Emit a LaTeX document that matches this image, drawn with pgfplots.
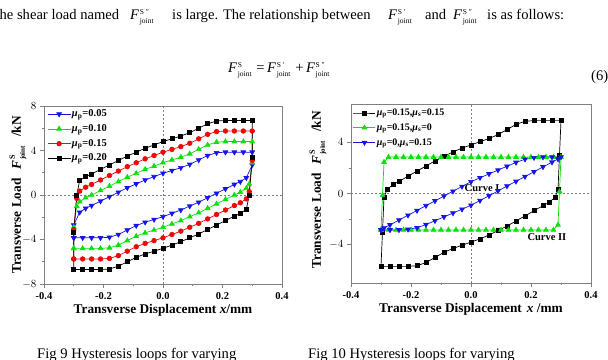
\documentclass[border=0pt]{standalone}
\usepackage{fontspec}
\setmainfont{Liberation Serif}
\usepackage{pgfplots}
\pgfplotsset{compat=1.18}

\definecolor{cblue}{RGB}{20,20,235}
\definecolor{cgreen}{RGB}{10,225,10}
\definecolor{cred}{RGB}{235,10,10}
\definecolor{framegray}{RGB}{128,128,128}

% italic F with a superscript and the subscript "joint"
\newcommand{\Fj}[1]{\textit{F}\kern0.6pt\rlap{\raisebox{5.5pt}{\fontsize{7.5}{7.5}\selectfont #1}}\raisebox{-4pt}{\fontsize{7.5}{7.5}\selectfont joint}}
\newcommand{\Fylab}{\textbf{\textit{F}}\kern0.6pt\rlap{\raisebox{6pt}{\fontsize{8}{8}\selectfont S}}\raisebox{-4pt}{\fontsize{7}{7}\selectfont joint}}
\newcommand{\mup}[1]{\textit{μ}\textsubscript{#1}}

\pgfplotsset{
  loopaxis/.style={
    scale only axis,
    anchor=south west,
    xmin=-0.4, xmax=0.4,
    xtick={-0.4,-0.2,0,0.2,0.4},
    xticklabels={-0.4,-0.2,0.0,0.2,0.4},
    minor x tick num=1,
    minor y tick num=1,
    tick align=outside,
    xtick pos=lower, ytick pos=left,
    major tick length=4pt, minor tick length=2pt,
    axis line style={framegray, line width=0.9pt},
    tick style={framegray, line width=0.8pt},
    tick label style={font=\bfseries\fontsize{10.5}{12}\selectfont},
    xticklabel style={anchor=base, yshift=-11pt},
    label style={font=\bfseries\fontsize{13.3}{15}\selectfont},
    xlabel style={at={(axis description cs:0.5,0)}, anchor=base, yshift=-29.5pt},
    legend cell align=left,
    legend style={draw=none, fill=none, anchor=north west,
      font=\bfseries\fontsize{10.5}{12}\selectfont,
      inner xsep=0pt, inner ysep=1pt, row sep=2.8pt,
      nodes={inner sep=1pt, text height=7.5pt, text depth=2.5pt}},
    legend image code/.code={\draw[mark repeat=2, mark phase=2]
      plot coordinates {(0pt,0pt) (11.5pt,0pt) (23pt,0pt)};},
    every axis plot/.append style={line width=0.7pt},
    sq/.style={black, mark=square*, mark size=2pt},
    ci/.style={cred, mark=*, mark size=2.3pt},
    tu/.style={cgreen, mark=triangle*, mark size=2.7pt},
    td/.style={cblue, mark=triangle*, mark size=2.7pt, mark options={rotate=180}},
  }
}

\begin{document}
\begin{tikzpicture}
\path[use as bounding box] (0pt,0pt) rectangle (608pt,359pt);
\clip (0pt,0pt) rectangle (608pt,359pt);

% running text and equation (6)
\begin{scope}[every node/.style={anchor=base west, inner sep=0pt, font=\fontsize{14.6}{17}\selectfont}]
\node at (-9.5pt,339pt) {The shear load named};
\node at (130pt,339pt) {\Fj{S ″}};
\node at (172pt,339pt) {is large. The relationship between};
\node at (388pt,339pt) {\Fj{S ′}};
\node at (425pt,339pt) {and};
\node at (453pt,339pt) {\Fj{S ″}};
\node at (487pt,339pt) {is as follows:};
\node at (228pt,286pt) {\Fj{S}\,\,=\,\Fj{S ′}\,\,+\,\Fj{S ″}};
\node at (591pt,278pt) {(6)};
\node at (37pt,1pt) {Fig 9 Hysteresis loops for varying};
\node at (308pt,1pt) {Fig 10 Hysteresis loops for varying};
\end{scope}

% ---- Fig 9: varying mu_p ----
\begin{axis}[loopaxis, at={(44pt,75pt)}, width=238pt, height=178pt,
  ymin=-8, ymax=8, ytick={-8,-4,0,4,8},
  xlabel={Transverse Displacement \textit{x}/mm},
  ylabel={Transverse Load\hspace{9pt}\Fylab\hspace{9pt}/kN},
  ylabel style={at={(axis description cs:-0.109,0.5)}, anchor=center},
  legend style={at={(axis description cs:0.013,0.995)}},
]
\draw[framegray, dash pattern=on 2pt off 2pt, line width=0.6pt] (axis cs:0,-8) -- (axis cs:0,8);
\draw[framegray, dash pattern=on 2pt off 2pt, line width=0.6pt] (axis cs:-0.4,0) -- (axis cs:0.4,0);

\addplot[td] coordinates {
(-0.30,-3.85) (-0.30,-2.7) (-0.28,-1.55) (-0.26,-1.2) (-0.24,-0.95) (-0.21,-0.55)
(-0.18,-0.15) (-0.15,0.25) (-0.12,0.65) (-0.09,1.0) (-0.06,1.35) (-0.03,1.65)
(0,1.95) (0.03,2.2) (0.06,2.45) (0.09,2.75) (0.12,3.15) (0.15,3.55) (0.18,3.8)
(0.21,3.85) (0.24,3.85) (0.27,3.85) (0.30,3.85)
(0.30,2.7) (0.28,1.55) (0.26,1.2) (0.24,0.95) (0.21,0.55) (0.18,0.15) (0.15,-0.25)
(0.12,-0.65) (0.09,-1.0) (0.06,-1.35) (0.03,-1.65) (0,-1.95) (-0.03,-2.2)
(-0.06,-2.45) (-0.09,-2.75) (-0.12,-3.15) (-0.15,-3.55) (-0.18,-3.8) (-0.21,-3.85)
(-0.24,-3.85) (-0.27,-3.85) (-0.30,-3.85)};
\addlegendentry{\mup{p}=0.05}

\addplot[tu] coordinates {
(-0.30,-4.8) (-0.30,-2.9) (-0.29,-1.0) (-0.28,-0.6) (-0.26,-0.25) (-0.24,0) (-0.21,0.4)
(-0.18,0.8) (-0.15,1.2) (-0.12,1.6) (-0.09,1.95) (-0.06,2.3) (-0.03,2.6) (0,2.9)
(0.03,3.15) (0.06,3.4) (0.09,3.7) (0.12,4.1) (0.15,4.5) (0.18,4.75) (0.21,4.8)
(0.24,4.8) (0.27,4.8) (0.30,4.8)
(0.30,2.9) (0.29,1.0) (0.28,0.6) (0.26,0.25) (0.24,0) (0.21,-0.4) (0.18,-0.8)
(0.15,-1.2) (0.12,-1.6) (0.09,-1.95) (0.06,-2.3) (0.03,-2.6) (0,-2.9) (-0.03,-3.15)
(-0.06,-3.4) (-0.09,-3.7) (-0.12,-4.1) (-0.15,-4.5) (-0.18,-4.75) (-0.21,-4.8)
(-0.24,-4.8) (-0.27,-4.8) (-0.30,-4.8)};
\addlegendentry{\mup{p}=0.10}

\addplot[ci] coordinates {
(-0.30,-5.75) (-0.30,-3.1) (-0.29,-0.3) (-0.28,0.35) (-0.26,0.7) (-0.24,0.95)
(-0.21,1.35) (-0.18,1.75) (-0.15,2.15) (-0.12,2.55) (-0.09,2.9) (-0.06,3.25)
(-0.03,3.55) (0,3.85) (0.03,4.1) (0.06,4.35) (0.09,4.65) (0.12,5.05) (0.15,5.45)
(0.18,5.7) (0.21,5.75) (0.24,5.75) (0.27,5.75) (0.30,5.75)
(0.30,3.1) (0.29,0.3) (0.28,-0.35) (0.26,-0.7) (0.24,-0.95) (0.21,-1.35) (0.18,-1.75)
(0.15,-2.15) (0.12,-2.55) (0.09,-2.9) (0.06,-3.25) (0.03,-3.55) (0,-3.85) (-0.03,-4.1)
(-0.06,-4.35) (-0.09,-4.65) (-0.12,-5.05) (-0.15,-5.45) (-0.18,-5.7) (-0.21,-5.75)
(-0.24,-5.75) (-0.27,-5.75) (-0.30,-5.75)};
\addlegendentry{\mup{p}=0.15}

\addplot[sq] coordinates {
(-0.30,-6.7) (-0.30,-3.4) (-0.29,0) (-0.28,1.3) (-0.26,1.65) (-0.24,1.9) (-0.21,2.3)
(-0.18,2.7) (-0.15,3.1) (-0.12,3.5) (-0.09,3.85) (-0.06,4.2) (-0.03,4.5) (0,4.8)
(0.03,5.05) (0.06,5.3) (0.09,5.6) (0.12,6.0) (0.15,6.4) (0.18,6.65) (0.21,6.7)
(0.24,6.7) (0.27,6.7) (0.30,6.7)
(0.30,3.4) (0.29,0) (0.28,-1.3) (0.26,-1.65) (0.24,-1.9) (0.21,-2.3) (0.18,-2.7)
(0.15,-3.1) (0.12,-3.5) (0.09,-3.85) (0.06,-4.2) (0.03,-4.5) (0,-4.8) (-0.03,-5.05)
(-0.06,-5.3) (-0.09,-5.6) (-0.12,-6.0) (-0.15,-6.4) (-0.18,-6.65) (-0.21,-6.7)
(-0.24,-6.7) (-0.27,-6.7) (-0.30,-6.7)};
\addlegendentry{\mup{p}=0.20}
\end{axis}

% ---- Fig 10: mu_p and mu_s ----
\begin{axis}[loopaxis, at={(351pt,76pt)}, width=240pt, height=179pt,
  ymin=-7, ymax=7, ytick={-4,0,4},
  xlabel={Transverse Displacement\hspace{5pt}\textit{x} /mm},
  ylabel={Transverse Load\hspace{9pt}\Fylab\hspace{9pt}/kN},
  ylabel style={at={(axis description cs:-0.1375,0.52)}, anchor=center},
  legend style={at={(axis description cs:0.008,0.99)}, font=\bfseries\fontsize{10}{12}\selectfont},
  legend image code/.code={\draw[mark repeat=2, mark phase=2]
      plot coordinates {(0pt,0pt) (11pt,0pt) (22pt,0pt)};},
]
\draw[framegray, dash pattern=on 2pt off 2pt, line width=0.6pt] (axis cs:0,-7) -- (axis cs:0,7);
\draw[framegray, dash pattern=on 2pt off 2pt, line width=0.6pt] (axis cs:-0.4,0) -- (axis cs:0.4,0);

\addplot[sq] coordinates {
(-0.30,-5.7) (-0.295,-3.0) (-0.29,-0.3) (-0.28,0.3) (-0.26,0.7) (-0.24,0.95)
(-0.21,1.35) (-0.18,1.75) (-0.15,2.15) (-0.12,2.55) (-0.09,2.9) (-0.06,3.25)
(-0.03,3.55) (0,3.8) (0.03,4.05) (0.06,4.3) (0.09,4.6) (0.12,5.0) (0.15,5.4)
(0.18,5.65) (0.21,5.7) (0.24,5.7) (0.27,5.7) (0.30,5.7)
(0.295,3.0) (0.29,0.3) (0.28,-0.3) (0.26,-0.7) (0.24,-0.95) (0.21,-1.35) (0.18,-1.75)
(0.15,-2.15) (0.12,-2.55) (0.09,-2.9) (0.06,-3.25) (0.03,-3.55) (0,-3.8) (-0.03,-4.05)
(-0.06,-4.3) (-0.09,-4.6) (-0.12,-5.0) (-0.15,-5.4) (-0.18,-5.65) (-0.21,-5.7)
(-0.24,-5.7) (-0.27,-5.7) (-0.30,-5.7)};
\addlegendentry{\mup{p}=0.15,\mup{s}=0.15}

\addplot[tu] coordinates {
(-0.30,-2.85) (-0.295,-0.15) (-0.29,2.45)
(-0.275,2.85) (-0.25,2.85) (-0.225,2.85) (-0.2,2.85) (-0.175,2.85) (-0.15,2.85)
(-0.125,2.85) (-0.1,2.85) (-0.075,2.85) (-0.05,2.85) (-0.025,2.85) (0,2.85)
(0.025,2.85) (0.05,2.85) (0.075,2.85) (0.1,2.85) (0.125,2.85) (0.15,2.85)
(0.175,2.85) (0.2,2.85) (0.225,2.85) (0.25,2.85) (0.275,2.85) (0.3,2.85)
(0.295,0.15) (0.29,-2.45)
(0.275,-2.85) (0.25,-2.85) (0.225,-2.85) (0.2,-2.85) (0.175,-2.85) (0.15,-2.85)
(0.125,-2.85) (0.1,-2.85) (0.075,-2.85) (0.05,-2.85) (0.025,-2.85) (0,-2.85)
(-0.025,-2.85) (-0.05,-2.85) (-0.075,-2.85) (-0.1,-2.85) (-0.125,-2.85) (-0.15,-2.85)
(-0.175,-2.85) (-0.2,-2.85) (-0.225,-2.85) (-0.25,-2.85) (-0.275,-2.85) (-0.3,-2.85)};
\addlegendentry{\mup{p}=0.15,\mup{s}=0}

\addplot[td] coordinates {
(-0.30,-2.85) (-0.29,-2.7) (-0.27,-2.45) (-0.24,-2.08) (-0.21,-1.7) (-0.18,-1.33)
(-0.15,-0.95) (-0.12,-0.58) (-0.09,-0.2) (-0.06,0.18) (-0.03,0.55) (0,0.92)
(0.03,1.23) (0.06,1.53) (0.09,1.83) (0.12,2.13) (0.15,2.43) (0.18,2.68) (0.21,2.8)
(0.24,2.85) (0.27,2.85) (0.30,2.85)
(0.29,2.7) (0.27,2.45) (0.24,2.08) (0.21,1.7) (0.18,1.33) (0.15,0.95) (0.12,0.58)
(0.09,0.2) (0.06,-0.18) (0.03,-0.55) (0,-0.92) (-0.03,-1.23) (-0.06,-1.53)
(-0.09,-1.83) (-0.12,-2.13) (-0.15,-2.43) (-0.18,-2.68) (-0.21,-2.8) (-0.24,-2.85)
(-0.27,-2.85) (-0.30,-2.85)};
\addlegendentry{\mup{p}=0,\mup{s}=0.15}

\node[font=\bfseries\fontsize{10.5}{12}\selectfont] at (axis cs:0.037,0.39) {Curve I};
\node[font=\bfseries\fontsize{10.5}{12}\selectfont] at (axis cs:0.253,-3.43) {Curve II};
\end{axis}
\end{tikzpicture}
\end{document}
